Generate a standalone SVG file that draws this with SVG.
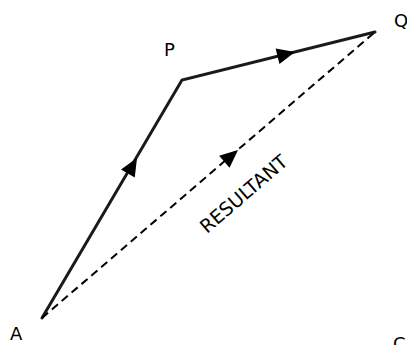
<svg xmlns="http://www.w3.org/2000/svg" width="407" height="345" viewBox="0 0 407 345">
<style>
.lbl{font-family:"DejaVu Sans","Open Sans",sans-serif;font-size:18px;fill:#000}
.big{font-size:19px}
.vec{stroke:#1a1a1a;stroke-width:3;fill:none;stroke-linecap:round;stroke-linejoin:miter}
.res{stroke:#000;stroke-width:2;fill:none;stroke-dasharray:8,5}
.ah{fill:#000}
</style>
<defs>
<path id="ah" d="M0,0 L-18,-8 L-18,8 Z"/>
</defs>
<rect width="407" height="345" fill="#fff"/>
<g id="connectors">
<polyline class="vec" points="42,318 182,80 375,32"/>
<line class="res" x1="42" y1="318" x2="375" y2="32"/>
<use href="#ah" class="ah" transform="translate(137,158) rotate(-59.5)"/>
<use href="#ah" class="ah" transform="translate(295,52) rotate(-14)"/>
<use href="#ah" class="ah" transform="translate(238,150) rotate(-40.65)"/>
</g>
<g id="node-A"><text class="lbl" x="10" y="340">A</text></g>
<g id="node-P"><text class="lbl" x="164" y="56">P</text></g>
<g id="node-Q"><text class="lbl" x="394" y="27">Q</text></g>
<g id="node-C"><text class="lbl" x="393" y="350">C</text></g>
<g id="label-resultant"><text class="lbl big" text-anchor="middle" transform="translate(248,199) rotate(-40.65)">RESULTANT</text></g>
</svg>
